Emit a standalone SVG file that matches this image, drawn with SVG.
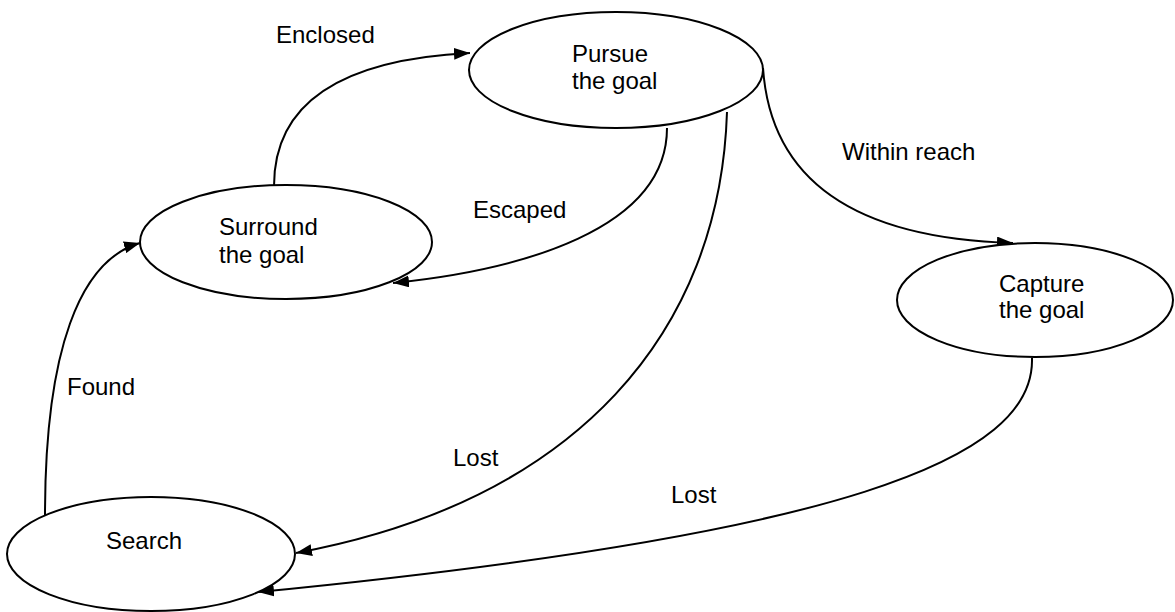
<svg xmlns="http://www.w3.org/2000/svg" width="1175" height="612" viewBox="0 0 1175 612">
<style>
.node{fill:#fff;stroke:#000;stroke-width:2}
.edge{fill:none;stroke:#000;stroke-width:2}
text{font-family:"Liberation Sans",Arial,sans-serif;font-size:24px;fill:#000}
</style>
<defs>
<marker id="arr" viewBox="0 0 16 12" refX="16" refY="6" markerWidth="16" markerHeight="12" orient="auto" markerUnits="userSpaceOnUse"><path d="M0,0 L16,6 L0,12 z" fill="#000"/></marker>
</defs>
<rect width="1175" height="612" fill="#fff"/>
<g id="connectors">
<path class="edge" d="M274,186 C274,110 330,60 470,53" marker-end="url(#arr)"/>
<path class="edge" d="M667,128 C667,230 520,270 393,283" marker-end="url(#arr)"/>
<path class="edge" d="M727,112 C720,330 580,500 296,553" marker-end="url(#arr)"/>
<path class="edge" d="M763,68 C770,170 840,238 1013,243" marker-end="url(#arr)"/>
<path class="edge" d="M1032,358 C1035,460 840,535 258,592" marker-end="url(#arr)"/>
<path class="edge" d="M45,515 C45,350 80,260 140,243" marker-end="url(#arr)"/>
<text x="276" y="43">Enclosed</text>
<text x="473" y="218">Escaped</text>
<text x="842" y="160">Within reach</text>
<text x="453" y="466">Lost</text>
<text x="671" y="503">Lost</text>
<text x="67" y="395">Found</text>
</g>
<g id="pursue">
<ellipse class="node" cx="616" cy="70" rx="147" ry="58"/>
<text x="572" y="62">Pursue</text>
<text x="572" y="89">the goal</text>
</g>
<g id="surround">
<ellipse class="node" cx="286" cy="242" rx="146" ry="57"/>
<text x="219" y="235">Surround</text>
<text x="219" y="263">the goal</text>
</g>
<g id="capture">
<ellipse class="node" cx="1035" cy="300" rx="138" ry="57"/>
<text x="999" y="292">Capture</text>
<text x="999" y="318">the goal</text>
</g>
<g id="search">
<ellipse class="node" cx="151" cy="554" rx="144" ry="57"/>
<text x="106" y="549">Search</text>
</g>
</svg>
